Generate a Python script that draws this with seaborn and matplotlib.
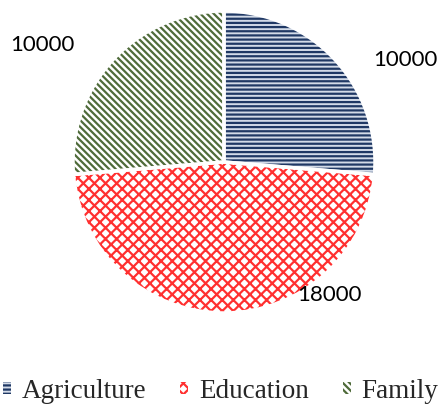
import matplotlib
matplotlib.use("Agg")
import matplotlib.pyplot as plt
from matplotlib.patches import Patch
import seaborn as sns

# Data
categories = ["Agriculture", "Education", "Family"]
amounts = [10000, 18000, 10000]

# Styling per slice
hatch_colors = ["#1f3864", "#ff3030", "#4f6b3a"]
face_colors = ["#d3dbe8", "#ffffff", "#ffffff"]
hatches = ["----", "xxx", "\\\\\\\\\\"]

sns.set_theme(style="white")
plt.rcParams["hatch.linewidth"] = 1.6

W, H, DPI = 441, 407, 100
fig = plt.figure(figsize=(W / DPI, H / DPI), dpi=DPI)
ax = fig.add_axes([0, 0, 1, 1])

# pie geometry in pixels
cx, cy, R = 224, 162, 151

wedges, _ = ax.pie(amounts, startangle=90, counterclock=False, radius=1,
                   center=(0, 0), wedgeprops=dict(linewidth=0))
for w, hc, fc, ht in zip(wedges, hatch_colors, face_colors, hatches):
    w.set_facecolor(fc)
    w.set_edgecolor(hc)
    w.set_hatch(ht)
    w.set_linewidth(0)

# white separators between slices
ax.pie(amounts, startangle=90, counterclock=False, radius=1, center=(0, 0),
       wedgeprops=dict(facecolor="none", edgecolor="white", linewidth=2.5))

ax.set_aspect("auto")
ax.set_xlim(-cx / R, (W - cx) / R)
ax.set_ylim(-(H - cy) / R, cy / R)
ax.axis("off")

# value labels
label_pos = [(1.20, 0.675), (0.70, -0.88), (-1.20, 0.775)]
for (x, y), v in zip(label_pos, amounts):
    ax.text(x, y, f"{v}", ha="center", va="center", fontsize=16,
            family="Lato", color="black")

handles = [Patch(facecolor=fc, edgecolor=hc, hatch=ht, linewidth=0)
           for hc, fc, ht in zip(hatch_colors, face_colors, hatches)]
fig.legend(handles, categories, loc="center", bbox_to_anchor=(0.5, 0.038),
           ncol=3, frameon=False, handlelength=0.3, handleheight=0.3,
           handletextpad=0.4, columnspacing=1.25, borderpad=0.1,
           prop=dict(family="Liberation Serif", size=19.5))

fig.savefig("out.png", dpi=DPI, facecolor="white")
